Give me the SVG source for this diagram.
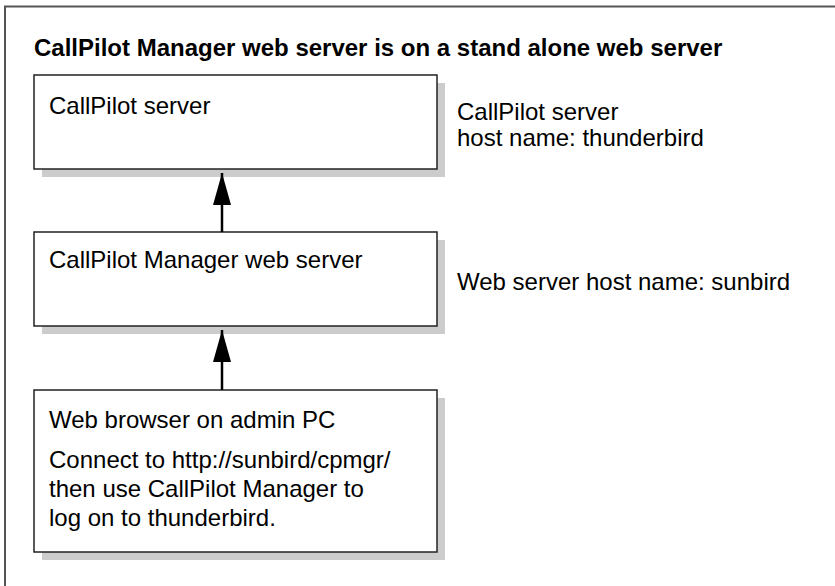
<svg xmlns="http://www.w3.org/2000/svg" width="835" height="586" viewBox="0 0 835 586">
<defs>
<style>
.t{font-family:"Liberation Sans",Arial,Helvetica,sans-serif;font-size:24px;fill:#000}
.tb{font-weight:bold}
.box{fill:#fff;stroke:#222;stroke-width:1.5}
.sh{fill:#cccccc}
.ln{stroke:#000;stroke-width:2.5;fill:none}
</style>
<marker id="ah" viewBox="0 0 32 18" refX="32" refY="9" markerWidth="32" markerHeight="18" markerUnits="userSpaceOnUse" orient="auto">
<path d="M0,0 L32,9 L0,18 Z" fill="#000"/>
</marker>
</defs>
<rect x="0" y="0" width="835" height="586" fill="#fff"/>
<path d="M5,586 L5,6.5 L835,6.5" fill="none" stroke="#555" stroke-width="2"/>
<text class="t tb" x="34" y="56">CallPilot Manager web server is on a stand alone web server</text>
<g id="cp-server">
<rect class="sh" x="42" y="83" width="403" height="94"/>
<rect class="box" x="34" y="75" width="403" height="94"/>
<text class="t" x="49" y="114">CallPilot server</text>
</g>
<g id="cp-label">
<text class="t" x="457" y="120">CallPilot server</text>
<text class="t" x="457" y="146">host name: thunderbird</text>
</g>
<g id="web-server">
<rect class="sh" x="42" y="240" width="403" height="94"/>
<rect class="box" x="34" y="232" width="403" height="94"/>
<text class="t" x="49" y="268">CallPilot Manager web server</text>
</g>
<g id="web-label">
<text class="t" x="457" y="290">Web server host name: sunbird</text>
</g>
<g id="browser">
<rect class="sh" x="42" y="398" width="403" height="162"/>
<rect class="box" x="34" y="390" width="403" height="162"/>
<text class="t" x="49" y="428">Web browser on admin PC</text>
<text class="t" x="49" y="468">Connect to http://sunbird/cpmgr/</text>
<text class="t" x="49" y="497">then use CallPilot Manager to</text>
<text class="t" x="49" y="526">log on to thunderbird.</text>
</g>
<g id="connectors">
<line class="ln" x1="222" y1="232" x2="222" y2="173" marker-end="url(#ah)"/>
<line class="ln" x1="222" y1="390" x2="222" y2="330" marker-end="url(#ah)"/>
</g>
</svg>
